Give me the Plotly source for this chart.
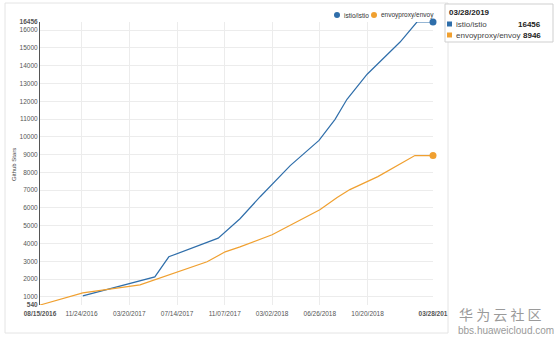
import plotly.graph_objects as go

# ---- data ----
istio_dates = ["2016-11-27", "2017-05-21", "2017-06-24", "2017-10-22", "2017-12-14",
               "2018-02-01", "2018-04-15", "2018-06-24", "2018-08-02", "2018-08-31",
               "2018-10-19", "2019-01-07", "2019-02-17", "2019-03-28"]
istio_stars = [1050, 2120, 3250, 4300, 5390,
               6630, 8380, 9800, 10980, 12110,
               13520, 15330, 16456, 16456]

envoy_dates = ["2016-08-15", "2016-11-27", "2017-04-15", "2017-05-21", "2017-09-25",
               "2017-11-08", "2017-12-14", "2018-03-02", "2018-05-09", "2018-06-26",
               "2018-08-07", "2018-09-07", "2018-11-14", "2019-02-12", "2019-03-28"]
envoy_stars = [540, 1217, 1670, 1950, 2970,
               3530, 3810, 4490, 5340, 5900,
               6580, 7030, 7760, 8946, 8946]

series_names = ["istio/istio", "envoyproxy/envoy"]
series_colors = ["#2f6eaa", "#f0a030"]

x_tick_vals = ["2016-08-15", "2016-11-24", "2017-03-20", "2017-07-14", "2017-11-07",
               "2018-03-02", "2018-06-26", "2018-10-20", "2019-03-28"]
x_tick_text = ["<b>08/15/2016</b>", "11/24/2016", "03/20/2017", "07/14/2017", "11/07/2017",
               "03/02/2018", "06/26/2018", "10/20/2018", "<b>03/28/201</b>"]
y_min, y_max = 540, 16456
y_tick_vals = [y_min] + list(range(1000, 16001, 1000)) + [y_max]
y_tick_text = ["<b>540</b>"] + [str(v) for v in range(1000, 16001, 1000)] + ["<b>16456</b>"]

tooltip_date = "03/28/2019"

# ---- layout geometry (pixels) ----
W, H = 554, 340
L, R, T, B = 40, 433, 22, 305


def px(x):
    return (x - L) / (R - L)


def py(y):
    return (B - y) / (B - T)


FONT = "Liberation Sans, Arial, sans-serif"

fig = go.Figure()
for name, dates, vals, col in [(series_names[0], istio_dates, istio_stars, series_colors[0]),
                               (series_names[1], envoy_dates, envoy_stars, series_colors[1])]:
    fig.add_trace(go.Scatter(x=dates, y=vals, mode="lines", name=name,
                             line=dict(color=col, width=1.2), showlegend=False,
                             hoverinfo="skip"))
    fig.add_trace(go.Scatter(x=[dates[-1]], y=[vals[-1]], mode="markers", name=name,
                             marker=dict(color=col, size=7), showlegend=False,
                             cliponaxis=False, hoverinfo="skip"))

fig.update_layout(
    width=W, height=H,
    margin=dict(l=L, r=W - R, t=T, b=H - B),
    paper_bgcolor="white", plot_bgcolor="white",
    font=dict(family=FONT, size=7, color="#444"),
    showlegend=False,
    xaxis=dict(type="date", range=[envoy_dates[0], istio_dates[-1]],
               tickvals=x_tick_vals, ticktext=x_tick_text,
               showgrid=True, gridcolor="#ececec", gridwidth=1,
               showline=False, zeroline=False, ticks="", ticklabelstandoff=3,
               tickfont=dict(size=6.5, color="#555")),
    yaxis=dict(range=[y_min, y_max], tickvals=y_tick_vals, ticktext=y_tick_text,
               showgrid=True, gridcolor="#ececec", gridwidth=1,
               showline=True, linecolor="#555", linewidth=1, zeroline=False,
               ticks="", tickfont=dict(size=6.5, color="#555")),
)

shapes = []
# card border
shapes.append(dict(type="rect", xref="paper", yref="paper",
                   x0=px(5), x1=px(448), y0=py(333), y1=py(3),
                   line=dict(color="#e4e4e4", width=1), layer="below"))
# tooltip box
shapes.append(dict(type="rect", xref="paper", yref="paper",
                   x0=px(445), x1=px(553), y0=py(42), y1=py(4),
                   line=dict(color="#cfcfcf", width=1), fillcolor="white"))
# tooltip color squares
for i, col in enumerate(series_colors):
    yc = 24 + i * 11
    shapes.append(dict(type="rect", xref="paper", yref="paper",
                       x0=px(447), x1=px(452), y0=py(yc + 2.5), y1=py(yc - 2.5),
                       line=dict(width=0), fillcolor=col))
# legend circles
legend_x = [337, 374]
for lx, col in zip(legend_x, series_colors):
    shapes.append(dict(type="circle", xref="paper", yref="paper",
                       x0=px(lx - 3), x1=px(lx + 3), y0=py(18), y1=py(12),
                       line=dict(width=0), fillcolor=col))
fig.update_layout(shapes=shapes)

ann = []
for lx, nm in zip(legend_x, series_names):
    ann.append(dict(text=nm, x=px(lx + 5), y=py(15), xref="paper", yref="paper",
                    xanchor="left", yanchor="middle", showarrow=False,
                    font=dict(size=6.5, color="#333")))
ann.append(dict(text="Github Stars", x=px(14), y=py(165), xref="paper", yref="paper",
                xanchor="center", yanchor="middle",
                textangle=-90, showarrow=False, font=dict(size=6, color="#444")))
ann.append(dict(text="<b>" + tooltip_date + "</b>", x=px(447), y=py(13), xref="paper",
                yref="paper", xanchor="left", yanchor="middle", showarrow=False,
                font=dict(size=8, color="#222")))
last_vals = [istio_stars[-1], envoy_stars[-1]]
for i, (nm, v) in enumerate(zip(series_names, last_vals)):
    yc = 24 + i * 11
    ann.append(dict(text=nm, x=px(454), y=py(yc), xref="paper", yref="paper",
                    xanchor="left", yanchor="middle", showarrow=False,
                    font=dict(size=8, color="#444")))
    ann.append(dict(text="<b>%d</b>" % v, x=px(543), y=py(yc), xref="paper", yref="paper",
                    xanchor="right", yanchor="middle", showarrow=False,
                    font=dict(size=8, color="#222")))
# watermark
ann.append(dict(text="华 为 云 社 区", x=px(457), y=py(314), xref="paper", yref="paper",
                xanchor="left", yanchor="middle", showarrow=False,
                font=dict(size=14, color="#9a9a9a", family="Noto Sans CJK SC")))
ann.append(dict(text="bbs.huaweicloud.com", x=px(456), y=py(330), xref="paper", yref="paper",
                xanchor="left", yanchor="middle", showarrow=False,
                font=dict(size=10, color="#9a9a9a")))
fig.update_layout(annotations=ann)

fig.write_html("out.html")
